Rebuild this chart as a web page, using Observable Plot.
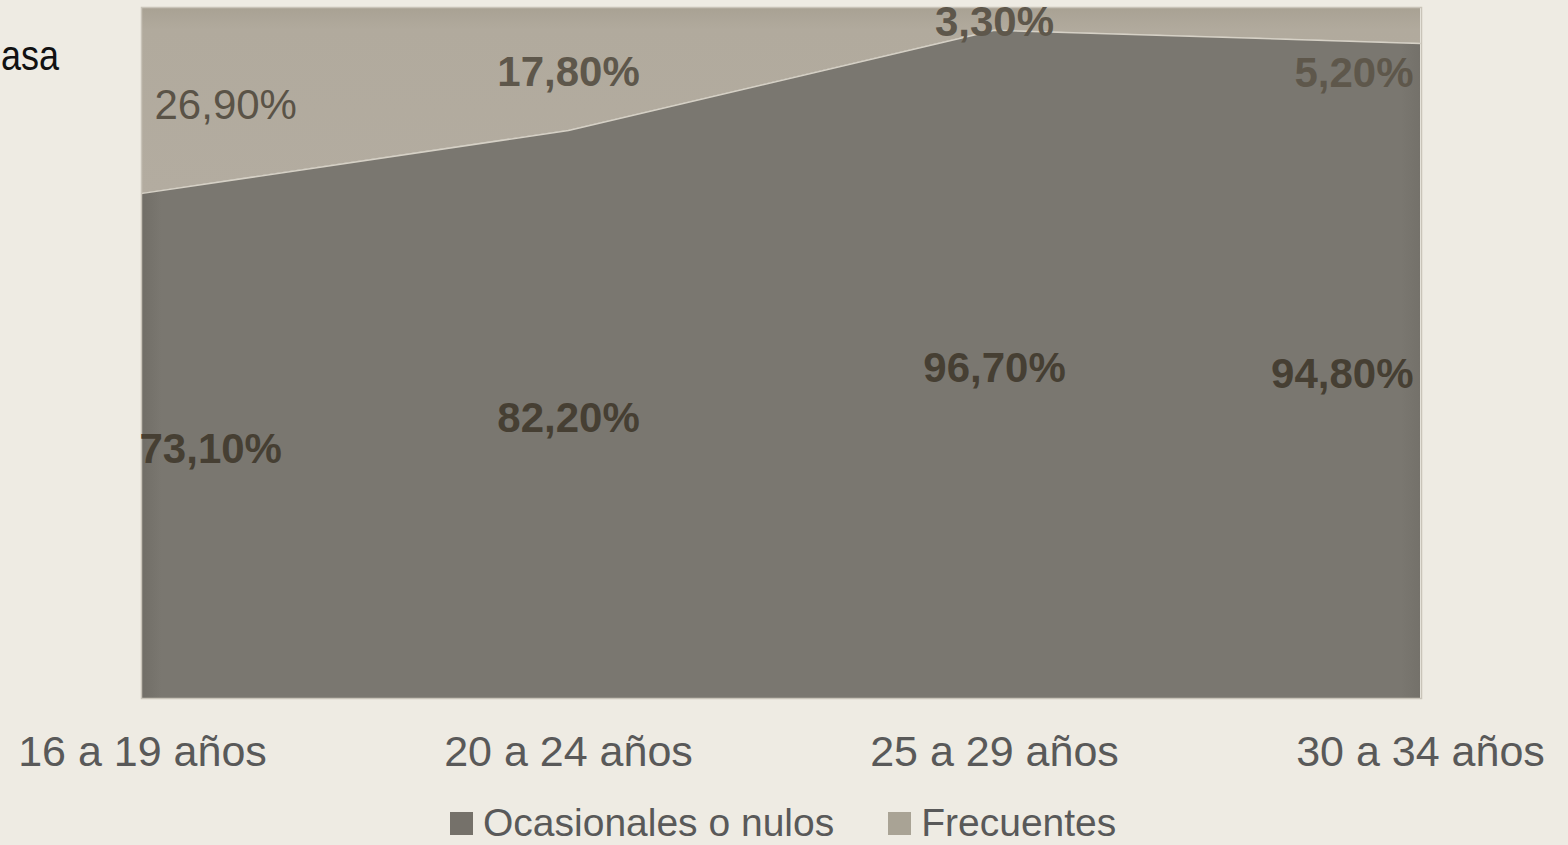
<!DOCTYPE html>
<html>
<head>
<meta charset="utf-8">
<script src="https://cdn.jsdelivr.net/npm/d3@7"></script>
<script src="https://cdn.jsdelivr.net/npm/@observablehq/plot@0.6"></script>
<style>
  html, body { margin: 0; padding: 0; background: #EEEBE3; width: 1568px; height: 845px; overflow: hidden; font-family: "Liberation Sans", Arial, sans-serif; }
  #wrap { position: relative; width: 1568px; height: 845px; }
  #chart { position: absolute; left: 0; top: 0; }
  #side { position: absolute; left: 1px; top: 32px; font-size: 36px; line-height: 40px; color: #111; white-space: nowrap; transform: scaleY(1.2); transform-origin: left top; }
  #legend { position: absolute; top: 805px; left: 450px; display: flex; gap: 54px; font-size: 39px; line-height: 36px; color: #595959; white-space: nowrap; }
  .item { display: flex; align-items: center; gap: 10px; }
  .sw { width: 23px; height: 23px; display: inline-block; }
</style>
</head>
<body>
<div id="wrap">
  <div id="chart"></div>
  <div id="side">asa</div>
  <div id="legend"></div>
</div>
<script>
const ages = ["16 a 19 años", "20 a 24 años", "25 a 29 años", "30 a 34 años"];
const series = ["Ocasionales o nulos", "Frecuentes"];
const ocasionales = [73.1, 82.2, 96.7, 94.8];
const frecuentes = [26.9, 17.8, 3.3, 5.2];
const colors = ["url(#gLow)", "url(#gTop)"];
const swatch = ["#75716A", "#A9A395"];

const rows = [];
ages.forEach((a, i) => {
  rows.push({age: a, serie: series[0], value: ocasionales[i], mid: ocasionales[i] / 2, i});
  rows.push({age: a, serie: series[1], value: frecuentes[i], mid: ocasionales[i] + frecuentes[i] / 2, i});
});
const fmt = v => v.toFixed(2).replace(".", ",") + "%";
const lower = rows.filter(d => d.serie === series[0]);
const upper = rows.filter(d => d.serie === series[1]);
const font = "Liberation Sans, Arial, sans-serif";

const lab = (data, opts) => Plot.text(data, {x: "age", y: "mid", text: d => fmt(d.value), fontSize: 42, fontFamily: font, ...opts});

// gradient definitions (styling only)
const defs = () => {
  const g = d3.create("svg:g");
  const d = g.append("defs");
  const top = d.append("linearGradient").attr("id", "gTop").attr("x1", 0).attr("y1", 0).attr("x2", 0).attr("y2", 1);
  top.append("stop").attr("offset", "0%").attr("stop-color", "#A8A193");
  top.append("stop").attr("offset", "12%").attr("stop-color", "#B1AA9D");
  top.append("stop").attr("offset", "100%").attr("stop-color", "#B3ACA0");
  const low = d.append("linearGradient").attr("id", "gLow").attr("x1", 0).attr("y1", 0).attr("x2", 1).attr("y2", 0);
  low.append("stop").attr("offset", "0%").attr("stop-color", "#716E67");
  low.append("stop").attr("offset", "1.5%").attr("stop-color", "#7A7770");
  low.append("stop").attr("offset", "98.5%").attr("stop-color", "#7A7770");
  low.append("stop").attr("offset", "100%").attr("stop-color", "#74716A");
  return g.node();
};

const chart = Plot.plot({
  width: 1568,
  height: 790,
  marginLeft: 141,
  marginRight: 147,
  marginTop: 7,
  marginBottom: 92,
  style: {background: "transparent", fontFamily: font, overflow: "visible"},
  x: {type: "point", domain: ages, label: null, padding: 0},
  y: {domain: [0, 100], axis: null},
  color: {domain: series, range: colors},
  marks: [
    defs,
    Plot.areaY(rows, {x: "age", y: "value", fill: "serie", order: series}),
    Plot.lineY(lower, {x: "age", y: "value", stroke: "#D6D1C6", strokeWidth: 1.5}),
    Plot.frame({stroke: "#C9C4B9", strokeWidth: 1.5}),
    Plot.axisX({tickSize: 0, tickPadding: 37, fontSize: 43, fill: "#595959", fontFamily: font}),
    lab(lower.filter(d => d.i === 0), {textAnchor: "start", dx: -3, dy: 4, fontWeight: "bold", fill: "#463F33"}),
    lab(lower.filter(d => d.i === 1 || d.i === 2), {dy: 4, fontWeight: "bold", fill: "#463F33"}),
    lab(lower.filter(d => d.i === 3), {textAnchor: "end", dx: -7, dy: 4, fontWeight: "bold", fill: "#463F33"}),
    lab(upper.filter(d => d.i === 0), {textAnchor: "start", dx: 12, dy: 5, fill: "#5A5347"}),
    lab(upper.filter(d => d.i === 1 || d.i === 2), {dy: 4, fontWeight: "bold", fill: "#5E574B"}),
    lab(upper.filter(d => d.i === 3), {textAnchor: "end", dx: -7, dy: 48, fontWeight: "bold", fill: "#5E574B"})
  ]
});
document.getElementById("chart").appendChild(chart);

const legend = document.getElementById("legend");
series.forEach((s, i) => {
  const it = document.createElement("div");
  it.className = "item";
  const sw = document.createElement("span");
  sw.className = "sw";
  sw.style.background = swatch[i];
  const t = document.createElement("span");
  t.textContent = s;
  it.appendChild(sw);
  it.appendChild(t);
  legend.appendChild(it);
});
</script>
</body>
</html>
